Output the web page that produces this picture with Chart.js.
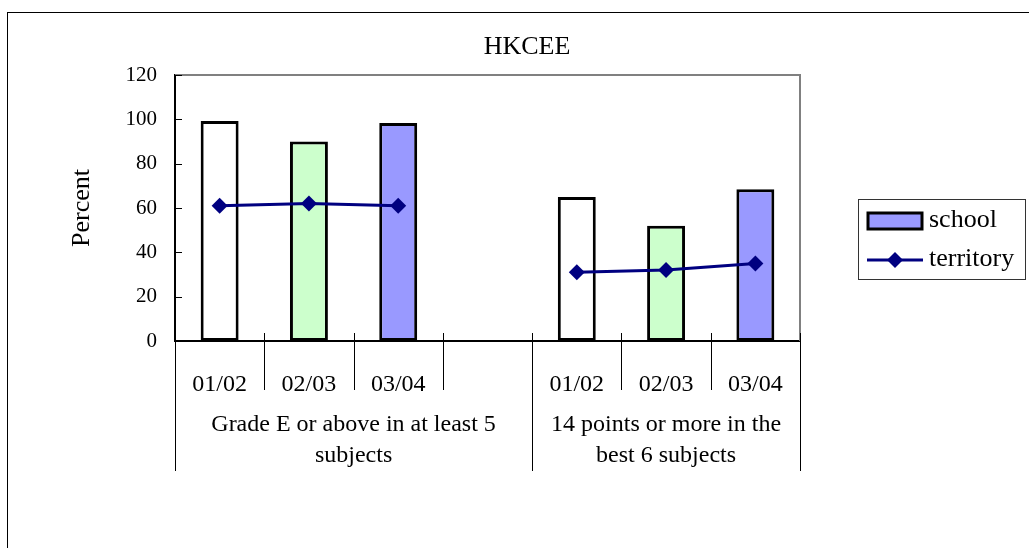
<!DOCTYPE html>
<html>
<head>
<meta charset="utf-8">
<script src="https://cdn.jsdelivr.net/npm/chart.js@4"></script>
<style>
html, body { margin: 0; padding: 0; background: #fff; overflow: hidden; }
#moldura { position: absolute; left: 7px; top: 12px; width: 1100px; height: 600px; border: 1px solid #000; }
#caixa { position: absolute; left: 0; top: 0; width: 1029px; height: 548px; }
</style>
</head>
<body>
<div id="moldura"></div>
<div id="caixa"><canvas id="grafico" width="1029" height="548"></canvas></div>
<script>
// Dados do gráfico
const titulo = 'HKCEE';
const anos = ['01/02', '02/03', '03/04', '', '01/02', '02/03', '03/04'];
const grupos = [['Grade E or above in at least 5', 'subjects'], ['14 points or more in the', 'best 6 subjects']];
const tamanhoGrupos = [4, 3];
const escola = [99.3, 90, 98.3, null, 65, 52, 68.5];
const territorio = [61, 62, 61, null, 31, 32, 35];
const marcasY = [0, 20, 40, 60, 80, 100, 120];
const coresAno = ['#FFFFFF', '#CCFFCC', '#9999FF', null, '#FFFFFF', '#CCFFCC', '#9999FF'];

const fonte = '"Liberation Serif", "Times New Roman", serif';
Chart.defaults.font.family = fonte;
Chart.defaults.color = '#000';

// Desenha o título, a legenda, as divisões e os grupos do eixo X
const extras = {
    id: 'extras',
    afterDraw(chart) {
        const ctx = chart.ctx;
        const x = chart.scales.x;
        const y = chart.scales.y;
        const area = chart.chartArea;
        const slot = (x.right - x.left) / anos.length;
        ctx.save();

        // borda cinza em cima e à direita
        ctx.strokeStyle = '#808080';
        ctx.lineWidth = 2;
        ctx.beginPath();
        ctx.moveTo(area.left, area.top);
        ctx.lineTo(area.right, area.top);
        ctx.lineTo(area.right, area.bottom);
        ctx.stroke();

        // marcas do eixo Y para dentro
        ctx.strokeStyle = '#000';
        ctx.lineWidth = 1;
        ctx.beginPath();
        marcasY.forEach(v => {
            const py = Math.round(y.getPixelForValue(v)) + 0.5;
            ctx.moveTo(area.left, py);
            ctx.lineTo(area.left + 7, py);
        });

        // divisões entre categorias
        const limites = [0];
        tamanhoGrupos.reduce((a, b) => { limites.push(a + b); return a + b; }, 0);
        for (let k = 1; k <= anos.length; k++) {
            const px = Math.round(x.left + k * slot) + 0.5;
            const fim = limites.includes(k) ? x.bottom : area.bottom + 49;
            ctx.moveTo(px, area.bottom - 8);
            ctx.lineTo(px, fim);
        }
        ctx.moveTo(area.left + 0.5, area.bottom);
        ctx.lineTo(area.left + 0.5, x.bottom);
        ctx.stroke();

        // nomes dos grupos
        ctx.fillStyle = '#000';
        ctx.font = '24px ' + fonte;
        ctx.textAlign = 'center';
        ctx.textBaseline = 'middle';
        let inicio = 0;
        grupos.forEach((linhas, i) => {
            const cx = x.left + (inicio + tamanhoGrupos[i] / 2) * slot;
            linhas.forEach((t, j) => ctx.fillText(t, cx, area.bottom + 84 + j * 31));
            inicio += tamanhoGrupos[i];
        });

        // título
        ctx.font = '26px ' + fonte;
        ctx.fillText(titulo, 527, 47);

        // legenda
        ctx.strokeStyle = '#333';
        ctx.lineWidth = 1;
        ctx.strokeRect(858.5, 199.5, 167, 80);
        ctx.fillStyle = '#9999FF';
        ctx.fillRect(868, 213, 54, 16);
        ctx.strokeStyle = '#000';
        ctx.lineWidth = 3;
        ctx.strokeRect(868, 213, 54, 16);
        ctx.strokeStyle = '#000080';
        ctx.beginPath();
        ctx.moveTo(867, 260);
        ctx.lineTo(923, 260);
        ctx.stroke();
        ctx.fillStyle = '#000080';
        ctx.beginPath();
        ctx.moveTo(895, 252);
        ctx.lineTo(903, 260);
        ctx.lineTo(895, 268);
        ctx.lineTo(887, 260);
        ctx.closePath();
        ctx.fill();
        ctx.fillStyle = '#000';
        ctx.textAlign = 'left';
        ctx.fillText('school', 929, 220);
        ctx.fillText('territory', 929, 259);
        ctx.restore();
    }
};

const ctx = document.getElementById('grafico').getContext('2d');
window.grafico = new Chart(ctx, {
    type: 'bar',
    data: {
        labels: anos,
        datasets: [{
            type: 'line',
            label: 'territory',
            data: territorio,
            borderColor: '#000080',
            backgroundColor: '#000080',
            borderWidth: 3,
            pointStyle: 'rectRot',
            pointRadius: 8,
            pointBackgroundColor: '#000080',
            pointBorderColor: '#000080',
            pointBorderWidth: 0,
            spanGaps: false,
            tension: 0,
            order: 0
        }, {
            label: 'school',
            data: escola,
            backgroundColor: coresAno,
            borderColor: '#000',
            borderWidth: 3,
            borderSkipped: false,
            categoryPercentage: 1,
            barPercentage: 0.425,
            order: 1
        }]
    },
    options: {
        responsive: false,
        animation: false,
        events: [],
        layout: { padding: { left: 0, right: 229, top: 75, bottom: 77 } },
        plugins: {
            legend: { display: false },
            tooltip: { enabled: false }
        },
        scales: {
            x: {
                grid: { display: false },
                border: { display: true, color: '#000', width: 2 },
                ticks: { font: { size: 24 }, padding: 21, maxRotation: 0, autoSkip: false },
                afterFit: s => { s.height = 130; }
            },
            y: {
                min: 0,
                max: 120,
                grid: { display: false },
                border: { display: true, color: '#000', width: 2 },
                ticks: { stepSize: 20, font: { size: 21 }, padding: 10 },
                title: { display: true, text: 'Percent', font: { size: 26 }, padding: { top: 67 } },
                afterFit: s => { s.width = 175; }
            }
        }
    },
    plugins: [extras]
});
</script>
</body>
</html>
